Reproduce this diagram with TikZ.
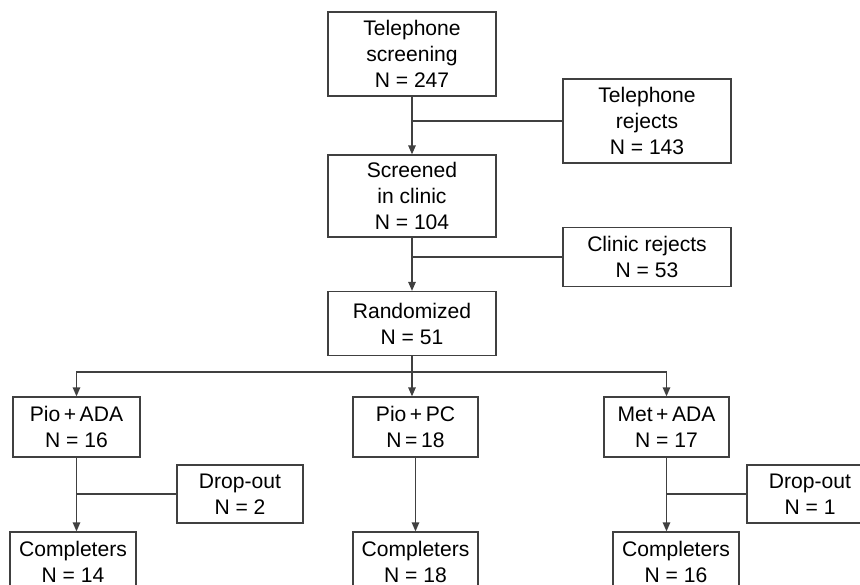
\documentclass[tikz,border=0pt]{standalone}
\usepackage{fontspec}
\setmainfont{Liberation Sans}
\usetikzlibrary{arrows.meta,positioning,calc}
\tikzset{every picture/.style={line width=0.75pt}}
\tikzset{
  box/.style={draw=black!75, inner sep=0pt, align=center,
    font=\fontsize{12}{14.8}\selectfont},
  arr/.style={draw=black!75, -{Triangle[length=1.8mm,width=1.5mm]}},
  lnk/.style={draw=black!75}
}

\begin{document}
\begin{tikzpicture}[x=0.02cm, y=-0.02cm]
    \useasboundingbox (0,0) rectangle (860,585);

    % 筛选流程
    \node[box, minimum width=3.36cm, minimum height=1.68cm] (tel) at (412,54) {Telephone\\screening\\N = 247};
    \node[box, minimum width=3.36cm, minimum height=1.68cm] (telrej) at (647,121) {Telephone\\rejects\\N = 143};
    \node[box, minimum width=3.36cm, minimum height=1.64cm] (scr) at (412,196) {Screened\\in clinic\\N = 104};
    \node[box, minimum width=3.36cm, minimum height=1.18cm] (clinrej) at (647,257) {Clinic rejects\\N = 53};
    \node[box, minimum width=3.36cm, minimum height=1.28cm] (rand) at (412,323.5) {Randomized\\N = 51};

    % 三个治疗组
    \node[box, minimum width=2.54cm, minimum height=1.2cm] (pioada) at (76.5,427) {Pio\,+\,ADA\\N = 16};
    \node[box, minimum width=2.5cm, minimum height=1.2cm] (piopc) at (415.5,427) {Pio\,+\,PC\\N\,=\,18};
    \node[box, minimum width=2.5cm, minimum height=1.2cm] (metada) at (666.5,427) {Met\,+\,ADA\\N = 17};

    % 退出
    \node[box, minimum width=2.52cm, minimum height=1.16cm] (drop1) at (240,494) {Drop-out\\N = 2};
    \node[box, minimum width=2.52cm, minimum height=1.16cm] (drop2) at (810,494) {Drop-out\\N = 1};

    % 完成者
    \node[box, minimum width=2.52cm, minimum height=1.2cm] (comp1) at (73,562) {Completers\\N = 14};
    \node[box, minimum width=2.5cm, minimum height=1.2cm] (comp2) at (415.5,562) {Completers\\N = 18};
    \node[box, minimum width=2.52cm, minimum height=1.2cm] (comp3) at (676,562) {Completers\\N = 16};

    % 主干箭头
    \draw[arr] (tel.south) -- (scr.north);
    \draw[lnk] (tel.south |- telrej.west) -- (telrej.west);
    \draw[arr] (scr.south) -- (rand.north);
    \draw[lnk] (scr.south |- clinrej.west) -- (clinrej.west);

    % 随机分组
    \coordinate (split) at ($(rand.south)+(0,16)$);
    \draw[lnk] (rand.south) -- (split);
    \draw[arr] (split) -| (pioada.north);
    \draw[arr] (split) -| (metada.north);
    \draw[arr] (split) -- (split |- piopc.north);

    % 各组到完成者
    \draw[arr] (pioada.south) -- (pioada.south |- comp1.north);
    \draw[lnk] (pioada.south |- drop1.west) -- (drop1.west);
    \draw[arr] (piopc.south) -- (comp2.north);
    \draw[arr] (metada.south) -- (metada.south |- comp3.north);
    \draw[lnk] (metada.south |- drop2.west) -- (drop2.west);
\end{tikzpicture}
\end{document}
